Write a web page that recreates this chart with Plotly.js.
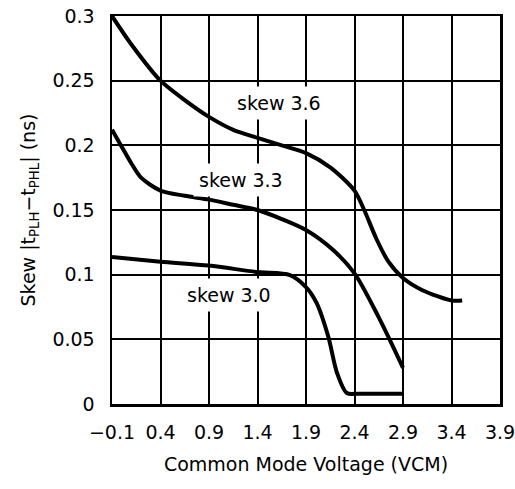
<!DOCTYPE html>
<html>
<head>
<meta charset="utf-8">
<script src="https://cdn.plot.ly/plotly-3.0.1.min.js"></script>
<style>html,body{margin:0;padding:0;background:#fff;}#chart{width:515px;height:489px;}</style>
</head>
<body>
<div id="chart"></div>
<script>
// skew 3.6 series
const x36 = [-0.1, 0.1, 0.4, 0.65, 0.9, 1.15, 1.4, 1.65, 1.9, 2.15, 2.4, 2.5, 2.63, 2.75, 2.9, 3.1, 3.4, 3.51];
const y36 = [0.300, 0.278, 0.250, 0.235, 0.222, 0.212, 0.2058, 0.200, 0.194, 0.183, 0.165, 0.150, 0.127, 0.110, 0.0974, 0.088, 0.080, 0.080];
// skew 3.3 series
const x33 = [-0.1, 0.0, 0.1, 0.2, 0.4, 0.65, 0.9, 1.15, 1.4, 1.65, 1.9, 2.18, 2.4, 2.65, 2.9];
const y33 = [0.212, 0.199, 0.186, 0.175, 0.165, 0.161, 0.158, 0.154, 0.150, 0.143, 0.1345, 0.119, 0.101, 0.067, 0.028];
// skew 3.0 series
const x30 = [-0.1, 0.4, 0.9, 1.4, 1.735, 1.9, 2.01, 2.13, 2.22, 2.32, 2.45, 2.9];
const y30 = [0.1136, 0.110, 0.107, 0.102, 0.0997, 0.0904, 0.078, 0.052, 0.024, 0.0085, 0.008, 0.008];

const labelText = ["skew 3.6", "skew 3.3", "skew 3.0"];
const labelX = [1.62, 1.23, 1.11];
const labelY = [0.233, 0.173, 0.084];

const yTickVals = [0, 0.05, 0.1, 0.15, 0.2, 0.25, 0.3];
const yTickText = ["0", "0.05", "0.1", "0.15", "0.2", "0.25", "0.3"];
const xTickVals = [-0.1, 0.4, 0.9, 1.4, 1.9, 2.4, 2.9, 3.4, 3.9];
const xTickText = ["\u22120.1", "0.4", "0.9", "1.4", "1.9", "2.4", "2.9", "3.4", "3.9"];

const lineStyle = {color: '#000', width: 4, shape: 'spline', smoothing: 0.8};
const traces = [
  {x: x36, y: y36, mode: 'lines', line: lineStyle, hoverinfo: 'skip'},
  {x: x33, y: y33, mode: 'lines', line: lineStyle, hoverinfo: 'skip'},
  {x: x30, y: y30, mode: 'lines', line: lineStyle, hoverinfo: 'skip'}
];

const font = {family: 'DejaVu Sans, sans-serif', size: 19, color: '#000'};
const annotations = labelText.map((t, i) => ({
  x: labelX[i], y: labelY[i], xref: 'x', yref: 'y', text: t, showarrow: false,
  bgcolor: '#fff', font: font, borderpad: 5
}));

const layout = {
  width: 515, height: 489,
  margin: {l: 112, r: 15, t: 16, b: 85},
  paper_bgcolor: '#fff', plot_bgcolor: '#fff',
  showlegend: false,
  font: font,
  xaxis: {
    range: [-0.1, 3.9], tickvals: xTickVals, ticktext: xTickText,
    showgrid: true, gridcolor: '#000', gridwidth: 2,
    showline: true, linecolor: '#000', linewidth: 2.5, mirror: true,
    zeroline: false, ticks: 'outside', ticklen: 10, tickcolor: 'rgba(0,0,0,0)', tickfont: font,
    ticklabeloverflow: 'allow',
    title: {text: 'Common Mode Voltage (VCM)', font: font, standoff: 16}
  },
  yaxis: {
    range: [0, 0.3], tickvals: yTickVals, ticktext: yTickText,
    showgrid: true, gridcolor: '#000', gridwidth: 2,
    showline: true, linecolor: '#000', linewidth: 2.5, mirror: true,
    zeroline: false, ticks: 'outside', ticklen: 11, tickcolor: 'rgba(0,0,0,0)', tickfont: font,
    ticklabeloverflow: 'allow',
    title: {text: 'Skew |t<sub>PLH</sub>\u2212t<sub>PHL</sub>| (ns)', font: font, standoff: 12}
  },
  annotations: annotations
};

Plotly.newPlot('chart', traces, layout, {staticPlot: true, displayModeBar: false});
</script>
</body>
</html>
